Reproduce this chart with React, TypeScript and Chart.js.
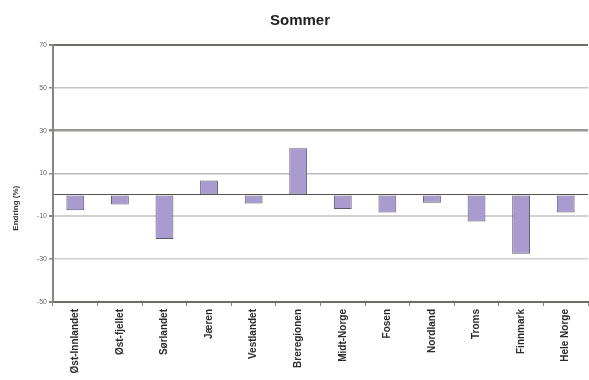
import React, { useEffect, useRef } from "react";
import { Chart, registerables } from "chart.js";

Chart.register(...registerables);

const categories = [
  "Øst-Innlandet",
  "Øst-fjellet",
  "Sørlandet",
  "Jæren",
  "Vestlandet",
  "Breregionen",
  "Midt-Norge",
  "Fosen",
  "Nordland",
  "Troms",
  "Finnmark",
  "Hele Norge",
];
const values = [-7.2, -4.5, -20.6, 6.7, -4.0, 21.8, -6.6, -8.2, -3.7, -12.4, -27.5, -8.2];
const yMin = -50;
const yMax = 70;
const yStep = 20;
const titleText = "Sommer";
const yTitle = "Endring (%)";

const FONT = "'Liberation Sans', Arial, sans-serif";

const gridStyle: Record<number, { c: string; w: number }> = {
  70: { c: "#6e6a66", w: 2 },
  50: { c: "#c6c4c2", w: 1.5 },
  30: { c: "#9a9896", w: 2.5 },
  10: { c: "#bcbab8", w: 1.5 },
  0: { c: "#555250", w: 1 },
  [-10]: { c: "#d2d0ce", w: 2 },
  [-30]: { c: "#d2d0ce", w: 1.5 },
  [-50]: { c: "#6e6a66", w: 2 },
};

const yTitlePlugin = {
  id: "yTitleCustom",
  afterDraw(chart: any) {
    const { ctx, chartArea } = chart;
    ctx.save();
    ctx.font = `bold 8px ${FONT}`;
    ctx.fillStyle = "#333";
    ctx.textAlign = "center";
    ctx.textBaseline = "middle";
    const y = chartArea.top + (chartArea.bottom - chartArea.top) * 0.635;
    ctx.translate(16, y);
    ctx.rotate(-Math.PI / 2);
    ctx.fillText(yTitle, 0, 0);
    ctx.restore();
  },
};

export default function App() {
  const ref = useRef<HTMLCanvasElement | null>(null);
  useEffect(() => {
    document.body.style.margin = "0";
    const chart = new Chart(ref.current as HTMLCanvasElement, {
      type: "bar",
      data: {
        labels: categories,
        datasets: [
          {
            data: values,
            backgroundColor: "#a99bcf",
            borderColor: "#5e586c",
            borderWidth: 1,
            borderSkipped: false,
            barPercentage: 0.4,
            categoryPercentage: 1,
          },
        ],
      },
      plugins: [yTitlePlugin],
      options: {
        animation: false,
        responsive: false,
        devicePixelRatio: 1,
        layout: { padding: { left: 12, right: 1, top: 0, bottom: 0 } },
        plugins: {
          legend: { display: false },
          tooltip: { enabled: false },
          title: {
            display: true,
            text: titleText,
            color: "#222",
            font: { family: FONT, size: 15, weight: "bold" },
            padding: { top: 12, bottom: 15 },
          },
        },
        scales: {
          x: {
            grid: {
              offset: true,
              drawOnChartArea: false,
              drawTicks: true,
              tickLength: 4,
              color: "#8a8580",
            },
            border: { color: "#6e6a66", width: 2 },
            ticks: {
              autoSkip: false,
              maxRotation: 90,
              minRotation: 90,
              padding: 3,
              color: "#2a2a2a",
              font: { family: FONT, size: 10, weight: "bold" },
            },
            afterFit: (s: any) => {
              s.height = 78;
            },
          },
          y: {
            min: yMin,
            max: yMax,
            ticks: {
              stepSize: yStep,
              padding: 2,
              color: "#666",
              font: { family: FONT, size: 7 },
              callback: (v: any) => (v === 0 ? "" : String(v)),
            },
            afterBuildTicks: (s: any) => {
              const t = s.ticks.filter((k: any) => k.value !== 0);
              t.push({ value: 0 });
              t.sort((a: any, b: any) => a.value - b.value);
              s.ticks = t;
            },
            grid: {
              color: (ctx: any) => (gridStyle[ctx.tick?.value]?.c ?? "#ccc"),
              lineWidth: (ctx: any) => (gridStyle[ctx.tick?.value]?.w ?? 1),
              tickColor: (ctx: any) => (ctx.tick?.value === 0 ? "rgba(0,0,0,0)" : "#8a8580"),
              tickLength: 4,
            },
            border: { color: "#8a8580", width: 2 },
            afterFit: (s: any) => {
              s.width = 41;
            },
          },
        },
      },
    } as any);
    return () => chart.destroy();
  }, []);
  return (
    <div style={{ position: "absolute", left: 0, top: 0, width: 589, height: 380 }}>
      <canvas ref={ref} width={589} height={380} />
    </div>
  );
}
